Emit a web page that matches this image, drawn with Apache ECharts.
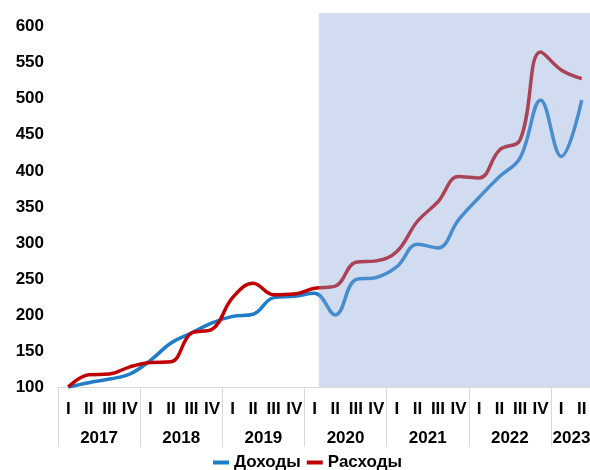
<!DOCTYPE html>
<html>
<head>
<meta charset="utf-8">
<script src="https://cdn.jsdelivr.net/npm/echarts@6/dist/echarts.min.js"></script>
<style>
  html, body { margin: 0; padding: 0; background: #fff; }
  #chart { width: 590px; height: 470px; }
</style>
</head>
<body>
<div id="chart"></div>
<script>
// годы и число кварталов в каждом
const years = ['2017', '2018', '2019', '2020', '2021', '2022', '2023']
const quartersPerYear = [4, 4, 4, 4, 4, 4, 2]
const quarterNames = ['I', 'II', 'III', 'IV']

// индексы, 2017 I = 100
const income = [100, 106, 111, 118, 137, 161, 175, 189, 198, 201, 224, 226,
  230, 200, 249, 252, 267, 298, 293, 332, 363, 392, 418, 498, 420, 498]
const expenses = [100, 117, 118, 128, 134, 135, 175, 180, 224, 244, 228, 229,
  237, 240, 273, 275, 288, 330, 357, 392, 390, 429, 443, 565, 540, 528]

// прогнозный период (в долях квартала по оси)
const forecastFrom = 12.7

const categories = []
years.forEach((y, i) => {
  for (let q = 0; q < quartersPerYear[i]; q++) categories.push(y + ' ' + quarterNames[q])
})

// центры подписей годов
const yearCenters = {}
let acc = 0
years.forEach((y, i) => {
  yearCenters[acc + quartersPerYear[i] / 2] = y
  acc += quartersPerYear[i]
})

const font = { fontFamily: 'Liberation Sans, Arial, sans-serif', fontWeight: 'bold', fontSize: 17, color: '#000' }

const chart = echarts.init(document.getElementById('chart'))
chart.setOption({
  animation: false,
  grid: { left: 58, width: 534, top: 13, bottom: 83, outerBoundsMode: 'none', containLabel: false },
  legend: {
    data: ['Доходы', 'Расходы'],
    left: 208,
    top: 449,
    icon: 'rect',
    itemWidth: 16,
    itemHeight: 4,
    itemGap: 6,
    textStyle: font
  },
  xAxis: [
    {
      type: 'category',
      data: categories,
      boundaryGap: true,
      axisLine: { lineStyle: { color: '#d9d9d9', width: 1 } },
      axisTick: {
        show: true,
        length: 60,
        interval: (index) => {
          let s = 0
          for (let i = 0; i < quartersPerYear.length; i++) {
            if (index === s) return true
            s += quartersPerYear[i]
          }
          return false
        },
        lineStyle: { color: '#d9d9d9' }
      },
      axisLabel: {
        ...font,
        interval: 0,
        margin: 14,
        formatter: (v) => v.split(' ')[1]
      }
    },
    {
      type: 'value',
      position: 'bottom',
      min: 0,
      max: categories.length,
      interval: 0.5,
      axisLine: { show: false },
      axisTick: { show: false },
      splitLine: { show: false },
      axisLabel: {
        ...font,
        margin: 43,
        showMinLabel: true,
        showMaxLabel: true,
        formatter: (v) => yearCenters[v] || ''
      }
    }
  ],
  yAxis: {
    type: 'value',
    min: 100,
    max: 619,
    interval: 50,
    axisLine: { show: false },
    axisTick: { show: false },
    splitLine: { show: false },
    axisLabel: { ...font, margin: 14, showMaxLabel: false }
  },
  series: [
    {
      name: 'Доходы',
      type: 'line',
      data: income,
      smooth: 0.4,
      symbol: 'none',
      color: '#1f7cc9',
      lineStyle: { width: 3.5, color: '#1f7cc9' },
      z: 2
    },
    {
      name: 'Расходы',
      type: 'line',
      data: expenses,
      smooth: 0.4,
      symbol: 'none',
      color: '#c00000',
      lineStyle: { width: 3.5, color: '#c00000' },
      z: 3
    },
    {
      name: 'Прогноз',
      type: 'line',
      xAxisIndex: 1,
      data: [],
      z: 10,
      silent: true,
      markArea: {
        silent: true,
        z: 10,
        itemStyle: { color: 'rgba(140,168,218,0.4)' },
        data: [[{ xAxis: forecastFrom, yAxis: 100 }, { xAxis: categories.length, yAxis: 619 }]]
      }
    }
  ]
})
</script>
</body>
</html>
